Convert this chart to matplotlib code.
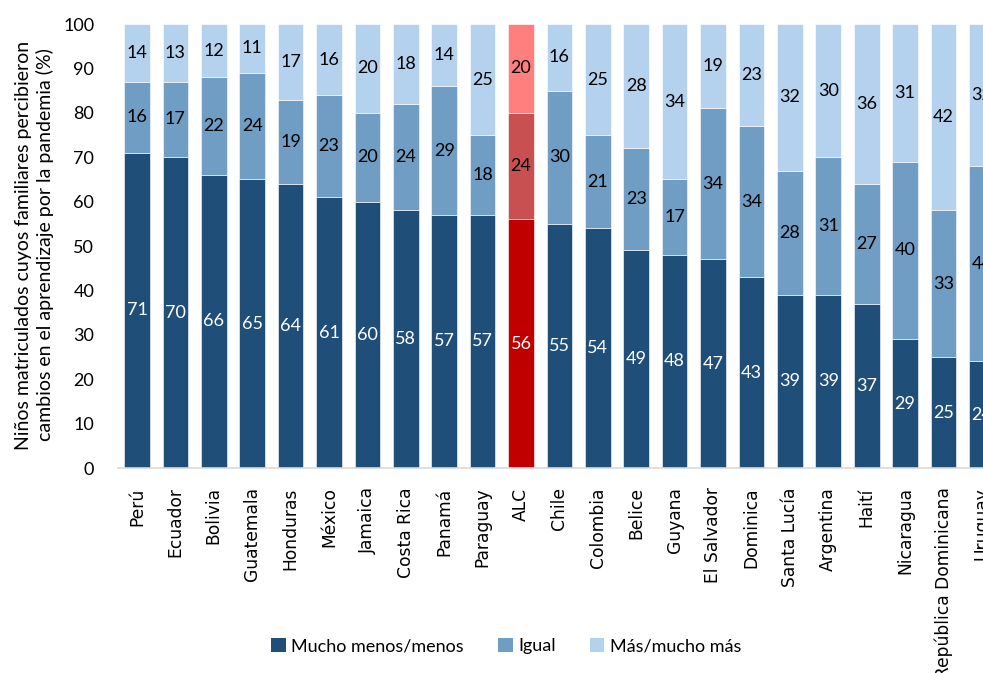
import matplotlib

matplotlib.use("Agg")
import matplotlib.pyplot as plt  # noqa: E402
from matplotlib.patches import Patch  # noqa: E402
import numpy as np  # noqa: E402

countries = [
    "Perú", "Ecuador", "Bolivia", "Guatemala", "Honduras", "México", "Jamaica",
    "Costa Rica", "Panamá", "Paraguay", "ALC", "Chile", "Colombia", "Belice",
    "Guyana", "El Salvador", "Dominica", "Santa Lucía", "Argentina", "Haití",
    "Nicaragua", "República Dominicana", "Uruguay",
]
menos = [71, 70, 66, 65, 64, 61, 60, 58, 57, 57, 56, 55, 54, 49, 48, 47, 43, 39, 39, 37, 29, 25, 24]
igual = [16, 17, 22, 24, 19, 23, 20, 24, 29, 18, 24, 30, 21, 23, 17, 34, 34, 28, 31, 27, 40, 33, 44]
mas = [14, 13, 12, 11, 17, 16, 20, 18, 14, 25, 20, 16, 25, 28, 34, 19, 23, 32, 30, 36, 31, 42, 32]
series_names = ["Mucho menos/menos", "Igual", "Más/mucho más"]

blues = ["#1F4E79", "#709DC4", "#B4D2EE"]
reds = ["#C00000", "#C85050", "#FF7F7F"]
highlight = "ALC"

NUM_FONT = ["Lato", "DejaVu Sans"]

fig = plt.figure(figsize=(9.83, 6.73), dpi=100)
ax = fig.add_axes([0.12, 0.3046, 0.88, 0.6597])

x = np.arange(len(countries))
bottom = np.zeros(len(countries))
for k, vals in enumerate([menos, igual, mas]):
    vals = np.array(vals, dtype=float)
    # shares are rounded; the last segment closes the bar at 100 %
    heights = 100 - bottom if k == 2 else vals
    cols = [reds[k] if c == highlight else blues[k] for c in countries]
    ax.bar(x, heights, bottom=bottom, width=0.67, color=cols,
           edgecolor="white", linewidth=0.4)
    for xi, b, h, v in zip(x, bottom, heights, vals):
        ax.text(xi, b + h / 2, f"{int(v)}", ha="center", va="center",
                fontsize=13, family=NUM_FONT,
                color="white" if k == 0 else "black")
    bottom += heights

ax.set_xlim(-0.495, 22.03)
ax.set_ylim(0, 100)
ax.set_yticks(range(0, 101, 10))
ax.tick_params(axis="y", length=0, pad=17, labelsize=13)
for t in ax.get_yticklabels():
    t.set_family(NUM_FONT)
ax.set_xticks(x)
ax.set_xticklabels(countries, rotation=90, fontsize=12.3, family="DejaVu Sans")
ax.tick_params(axis="x", length=0, pad=14)

for s in ["left", "right", "top"]:
    ax.spines[s].set_visible(False)
ax.spines["bottom"].set_color("#D9D9D9")
ax.spines["bottom"].set_linewidth(1.2)

fig.text(0.035, 0.636,
         "Niños matriculados cuyos familiares percibieron\n"
         "cambios en el aprendizaje por la pandemia (%)",
         rotation=90, ha="center", va="center", multialignment="center",
         fontsize=14, family=NUM_FONT, linespacing=1.25)

handles = [Patch(facecolor=c) for c in blues]
fig.legend(handles, series_names, loc="center", bbox_to_anchor=(0.515, 0.04),
           ncol=3, frameon=False, handlelength=0.8, handleheight=0.8,
           handletextpad=0.3, columnspacing=1.9,
           prop={"family": NUM_FONT, "size": 13})

fig.savefig("out.png", dpi=100)
